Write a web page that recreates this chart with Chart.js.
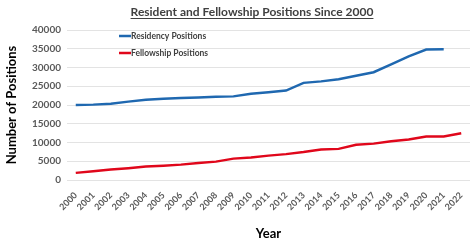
<!DOCTYPE html>
<html>
<head>
<meta charset="utf-8">
<script src="https://cdn.jsdelivr.net/npm/chart.js@4"></script>
<style>
  html, body { margin: 0; padding: 0; background: #fff; }
  #wrap { width: 474px; height: 246px; }
</style>
</head>
<body>
<div id="wrap"><canvas id="chart" width="474" height="246"></canvas></div>
<script>
const years = ["2000", "2001", "2002", "2003", "2004", "2005", "2006", "2007", "2008", "2009", "2010",
  "2011", "2012", "2013", "2014", "2015", "2016", "2017", "2018", "2019", "2020", "2021", "2022"];
const residency = [20000, 20100, 20350, 20900, 21400, 21650, 21850, 22000, 22200, 22300, 23000,
  23400, 23850, 25900, 26300, 26850, 27800, 28750, 30850, 32950, 34800, 34850, null];
const fellowship = [1900, 2350, 2800, 3150, 3600, 3800, 4100, 4550, 4900, 5700, 6000,
  6500, 6900, 7450, 8150, 8300, 9400, 9700, 10350, 10800, 11600, 11600, 12450];

const TITLE = "Resident and Fellowship Positions Since 2000";
const FONT = "Lato, 'Open Sans', sans-serif";

// title with underline + legend drawn inside the plot area
const decor = {
  id: "decor",
  afterDraw(chart) {
    const ctx = chart.ctx;
    ctx.save();
    ctx.font = `bold 12px ${FONT}`;
    ctx.fillStyle = "#404040";
    ctx.textAlign = "center";
    ctx.textBaseline = "alphabetic";
    const cx = 252;
    ctx.fillText(TITLE, cx, 16);
    const w = ctx.measureText(TITLE).width;
    ctx.fillRect(cx - w / 2, 18, w, 1);

    ctx.font = `bold 8.5px ${FONT}`;
    ctx.textAlign = "left";
    ctx.textBaseline = "middle";
    chart.data.datasets.forEach((ds, i) => {
      const y = 36 + i * 17;
      ctx.strokeStyle = ds.borderColor;
      ctx.lineWidth = 2.5;
      ctx.beginPath();
      ctx.moveTo(119, y);
      ctx.lineTo(131, y);
      ctx.stroke();
      ctx.fillStyle = "#404040";
      ctx.fillText(ds.label, 131, y);
    });
    ctx.restore();
  },
};

new Chart(document.getElementById("chart"), {
  type: "line",
  data: {
    labels: years,
    datasets: [
      { label: "Residency Positions", data: residency, borderColor: "#1f68b0", borderWidth: 2.5, pointRadius: 0, tension: 0 },
      { label: "Fellowship Positions", data: fellowship, borderColor: "#e0071b", borderWidth: 2.5, pointRadius: 0, tension: 0 },
    ],
  },
  options: {
    responsive: false,
    animation: false,
    layout: { padding: { top: 30, right: 4, left: 0, bottom: 0 } },
    plugins: {
      legend: { display: false },
      title: { display: false },
      tooltip: { enabled: false },
    },
    scales: {
      x: {
        offset: true,
        grid: { display: false },
        border: { display: false },
        ticks: {
          minRotation: 45,
          maxRotation: 45,
          autoSkip: false,
          color: "#595959",
          font: { family: FONT, size: 9, weight: "bold" },
          padding: 2,
        },
        title: {
          display: true,
          text: "Year",
          color: "#000",
          font: { family: FONT, size: 13, weight: "bold" },
          padding: { top: 8 },
        },
        afterFit(scale) { scale.height = 66; },
      },
      y: {
        min: 0,
        max: 40000,
        border: { display: false },
        grid: { color: "#e3e3e3", drawTicks: false },
        ticks: {
          stepSize: 5000,
          color: "#595959",
          font: { family: FONT, size: 10, weight: "bold" },
          padding: 6,
          callback: (v) => String(v),
        },
        title: {
          display: true,
          text: "Number of Positions",
          color: "#000",
          font: { family: FONT, size: 13, weight: "bold" },
          padding: { bottom: 4 },
        },
        afterFit(scale) { scale.width = 67; },
      },
    },
  },
  plugins: [decor],
});
</script>
</body>
</html>
